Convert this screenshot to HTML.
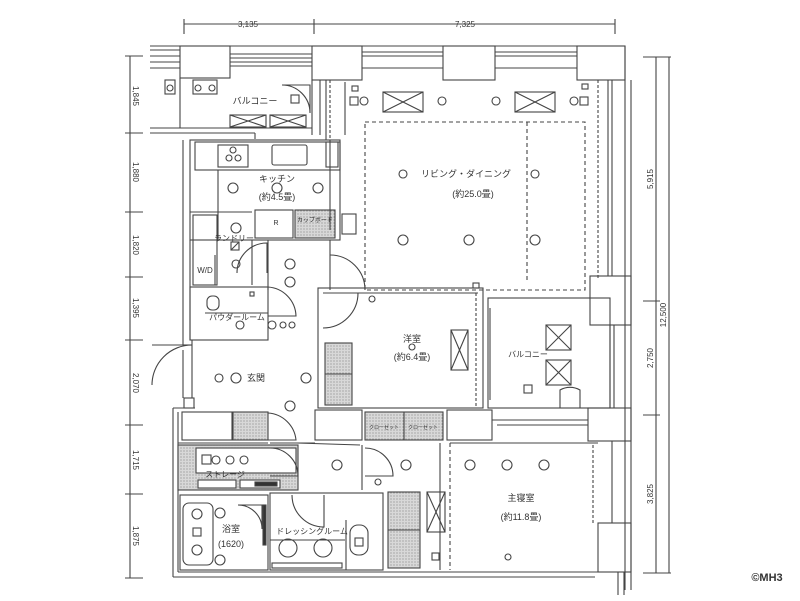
<!DOCTYPE html>
<html><head><meta charset="utf-8"><style>
html,body{margin:0;padding:0;background:#fff;}
svg{display:block;}
text{font-family:"Liberation Sans","Noto Sans CJK JP",sans-serif;fill:#333;}
</style></head><body>
<svg width="800" height="601" viewBox="0 0 800 601" xmlns="http://www.w3.org/2000/svg">
<defs>
<pattern id="dot" width="3" height="3" patternUnits="userSpaceOnUse"><rect width="3" height="3" fill="#d8d8d8"/><circle cx="1" cy="1" r="0.6" fill="#888"/></pattern>
</defs>
<g stroke="#444" stroke-width="1.1" fill="none">
<line x1="184" y1="24" x2="615" y2="24"/>
<line x1="184" y1="19" x2="184" y2="34"/><line x1="314" y1="19" x2="314" y2="34"/><line x1="615" y1="19" x2="615" y2="34"/>
<line x1="130" y1="56" x2="130" y2="578"/>
<g><line x1="125" y1="56" x2="143" y2="56"/><line x1="125" y1="133" x2="143" y2="133"/><line x1="125" y1="212" x2="143" y2="212"/><line x1="125" y1="277" x2="143" y2="277"/><line x1="125" y1="340" x2="143" y2="340"/><line x1="125" y1="425" x2="143" y2="425"/><line x1="125" y1="494" x2="143" y2="494"/><line x1="125" y1="578" x2="143" y2="578"/></g>
<line x1="656" y1="57" x2="656" y2="573"/><line x1="669" y1="57" x2="669" y2="573"/>
<line x1="643" y1="57" x2="671" y2="57"/><line x1="643" y1="301" x2="660" y2="301"/><line x1="643" y1="415" x2="660" y2="415"/><line x1="643" y1="573" x2="671" y2="573"/>

<rect x="180" y="46" width="50" height="32"/>
<rect x="312" y="46" width="50" height="34"/>
<rect x="443" y="46" width="52" height="34"/>
<rect x="577" y="46" width="48" height="34"/>
<line x1="150" y1="50" x2="180" y2="50"/><line x1="150" y1="56" x2="180" y2="56"/><line x1="150" y1="62" x2="180" y2="62"/><line x1="150" y1="68" x2="180" y2="68"/>
<line x1="230" y1="54" x2="312" y2="54"/><line x1="230" y1="58" x2="312" y2="58"/><line x1="230" y1="62" x2="312" y2="62"/><line x1="230" y1="66" x2="312" y2="66"/>
<line x1="362" y1="52" x2="443" y2="52"/><line x1="362" y1="56" x2="443" y2="56"/><line x1="362" y1="68" x2="443" y2="68"/>
<line x1="495" y1="52" x2="577" y2="52"/><line x1="495" y1="56" x2="577" y2="56"/><line x1="495" y1="68" x2="577" y2="68"/>
<line x1="150" y1="46" x2="625" y2="46"/>
<line x1="625" y1="46" x2="625" y2="590"/><line x1="631" y1="80" x2="631" y2="590"/>
<line x1="608" y1="80" x2="608" y2="276"/><line x1="612" y1="80" x2="612" y2="276"/>
<rect x="590" y="276" width="41" height="49"/>
<rect x="588" y="408" width="43" height="33"/>
<rect x="598" y="523" width="33" height="49"/>
<line x1="610" y1="325" x2="610" y2="408"/><line x1="614" y1="325" x2="614" y2="408"/>
<line x1="612" y1="441" x2="612" y2="523"/>
<line x1="618" y1="572" x2="618" y2="595"/><line x1="624" y1="572" x2="624" y2="595"/>

<line x1="180" y1="78" x2="180" y2="128"/>
<line x1="150" y1="128" x2="312" y2="128"/><line x1="150" y1="133" x2="255" y2="133"/>
<line x1="255" y1="133" x2="255" y2="139"/>
<rect x="165" y="80" width="10" height="14"/><circle cx="170" cy="88" r="3"/>
<rect x="193" y="80" width="24" height="14"/><circle cx="198" cy="88" r="3"/><circle cx="212" cy="88" r="3"/>
<rect x="230" y="115" width="36" height="12"/><line x1="230" y1="115" x2="266" y2="127"/><line x1="230" y1="127" x2="266" y2="115"/>
<rect x="270" y="115" width="36" height="12"/><line x1="270" y1="115" x2="306" y2="127"/><line x1="270" y1="127" x2="306" y2="115"/>
<path d="M282 85 A28 28 0 0 1 310 113 L310 85 Z"/>
<rect x="291" y="95" width="8" height="8"/>
<line x1="312" y1="80" x2="312" y2="135"/><line x1="320" y1="80" x2="320" y2="135"/>
<line x1="326" y1="80" x2="326" y2="140"/>

<rect x="190" y="140" width="150" height="100"/>
<rect x="195" y="142" width="145" height="28"/>
<rect x="218" y="145" width="30" height="22"/>
<circle cx="233" cy="150" r="3"/><circle cx="229" cy="158" r="3"/><circle cx="238" cy="158" r="3"/>
<rect x="272" y="145" width="35" height="20" rx="2"/>
<rect x="326" y="142" width="12" height="25"/>
<line x1="218" y1="170" x2="218" y2="240"/>
<rect x="255" y="210" width="38" height="28"/>
<rect x="295" y="210" width="40" height="28" fill="url(#dot)"/>
<rect x="342" y="214" width="14" height="20"/>
<circle cx="233" cy="188" r="5"/><circle cx="277" cy="188" r="5"/><circle cx="318" cy="188" r="5"/>
<line x1="190" y1="212" x2="252" y2="212"/>
<rect x="193" y="215" width="24" height="70"/>
<line x1="215" y1="255" x2="215" y2="285"/>
<circle cx="236" cy="228" r="5"/><rect x="231" y="242" width="8" height="8"/><line x1="231" y1="250" x2="239" y2="242"/>
<path d="M237 273 A30 30 0 0 1 267 243 L267 273"/>
<circle cx="236" cy="264" r="4"/>
<line x1="252" y1="240" x2="252" y2="285"/><line x1="268" y1="240" x2="268" y2="290"/>
<circle cx="290" cy="264" r="5"/>
<line x1="330" y1="240" x2="330" y2="290"/>
<path d="M330 255 A35 35 0 0 1 365 290"/>
<line x1="183" y1="140" x2="183" y2="345"/><line x1="190" y1="240" x2="190" y2="340"/>
<rect x="190" y="287" width="78" height="53"/>
<line x1="205" y1="313" x2="268" y2="313"/>
<rect x="207" y="296" width="12" height="14" rx="5"/>
<circle cx="240" cy="325" r="4"/>
<rect x="250" y="292" width="4" height="4"/>
<path d="M268 287 A30 30 0 0 1 296 316 L268 316"/>
<circle cx="272" cy="325" r="4"/><circle cx="283" cy="325" r="3"/><circle cx="292" cy="325" r="3"/>
<line x1="183" y1="345" x2="192" y2="345"/><line x1="192" y1="340" x2="192" y2="398"/>
<line x1="183" y1="350" x2="183" y2="398"/>
<path d="M192 345 A40 40 0 0 0 152 385"/><line x1="152" y1="345" x2="183" y2="345"/>
<rect x="184" y="398" width="10" height="10"/>
<circle cx="219" cy="378" r="4"/><circle cx="236" cy="378" r="5"/><circle cx="306" cy="378" r="5"/><circle cx="290" cy="406" r="5"/>
<circle cx="290" cy="282" r="5"/>

<line x1="330" y1="140" x2="330" y2="230"/>
<line x1="345" y1="82" x2="345" y2="135"/>
<rect x="352" y="86" width="6" height="5"/>
<rect x="350" y="97" width="8" height="8"/><circle cx="364" cy="101" r="4"/>
<rect x="383" y="92" width="40" height="20"/><line x1="383" y1="92" x2="423" y2="112"/><line x1="383" y1="112" x2="423" y2="92"/>
<rect x="515" y="92" width="40" height="20"/><line x1="515" y1="92" x2="555" y2="112"/><line x1="515" y1="112" x2="555" y2="92"/>
<circle cx="442" cy="101" r="4"/><circle cx="496" cy="101" r="4"/><circle cx="574" cy="101" r="4"/><rect x="580" y="97" width="8" height="8"/>
<rect x="582" y="84" width="6" height="5"/>
<line x1="330" y1="80" x2="330" y2="140" stroke-dasharray="3,2"/>
<line x1="598" y1="80" x2="598" y2="278" stroke-dasharray="3,2"/>
<rect x="365" y="122" width="220" height="168" stroke-dasharray="4,3"/>
<line x1="527" y1="122" x2="527" y2="280" stroke-dasharray="4,3"/>
<circle cx="403" cy="174" r="4"/><circle cx="535" cy="174" r="4"/>
<circle cx="403" cy="240" r="5"/><circle cx="469" cy="240" r="5"/><circle cx="535" cy="240" r="5"/>
<rect x="473" y="283" width="6" height="5"/>

<rect x="318" y="288" width="165" height="120"/>
<line x1="323" y1="293" x2="478" y2="293"/>
<path d="M323 293 L358 293 A35 35 0 0 1 323 328"/>
<rect x="325" y="343" width="27" height="62" fill="url(#dot)"/><line x1="325" y1="374" x2="352" y2="374"/>
<rect x="451" y="330" width="17" height="40"/><line x1="451" y1="330" x2="468" y2="370"/><line x1="451" y1="370" x2="468" y2="330"/>
<circle cx="412" cy="347" r="3"/><circle cx="372" cy="299" r="3"/>
<line x1="476" y1="293" x2="476" y2="408" stroke-dasharray="3,2"/>
<rect x="488" y="298" width="122" height="110"/>
<line x1="490" y1="308" x2="490" y2="400"/>
<rect x="546" y="325" width="25" height="25"/><line x1="546" y1="325" x2="571" y2="350"/><line x1="546" y1="350" x2="571" y2="325"/>
<rect x="546" y="360" width="25" height="25"/><line x1="546" y1="360" x2="571" y2="385"/><line x1="546" y1="385" x2="571" y2="360"/>
<rect x="524" y="385" width="8" height="8"/>
<path d="M560 408 L560 390 A20 20 0 0 1 580 390 L580 408"/>
<rect x="315" y="410" width="47" height="30"/>
<rect x="365" y="412" width="78" height="28" fill="url(#dot)"/><line x1="404" y1="412" x2="404" y2="440"/>
<rect x="447" y="410" width="45" height="30"/>
<line x1="492" y1="420" x2="588" y2="420"/><line x1="497" y1="425" x2="588" y2="425"/>

<line x1="450" y1="443" x2="450" y2="570" stroke-dasharray="4,3"/>
<line x1="450" y1="443" x2="598" y2="443"/>
<line x1="593" y1="445" x2="593" y2="523" stroke-dasharray="3,2"/>
<circle cx="470" cy="465" r="5"/><circle cx="507" cy="465" r="5"/><circle cx="544" cy="465" r="5"/>
<circle cx="508" cy="557" r="3"/>
<rect x="427" y="492" width="18" height="40"/><line x1="427" y1="492" x2="445" y2="532"/><line x1="427" y1="532" x2="445" y2="492"/>
<rect x="432" y="553" width="7" height="7"/>

<line x1="173" y1="408" x2="173" y2="577"/><line x1="178" y1="412" x2="178" y2="572"/>
<line x1="173" y1="408" x2="195" y2="408"/>
<line x1="173" y1="577" x2="595" y2="577"/><line x1="178" y1="572" x2="598" y2="572"/>
<rect x="182" y="412" width="50" height="28"/>
<rect x="233" y="412" width="35" height="28" fill="url(#dot)"/>
<line x1="178" y1="443" x2="268" y2="443"/>
<rect x="178" y="445" width="120" height="45" fill="url(#dot)"/>
<rect x="196" y="448" width="100" height="25" fill="#fff"/>
<rect x="198" y="480" width="38" height="8" fill="#fff"/><rect x="240" y="480" width="40" height="8" fill="#fff"/>
<rect x="255" y="482" width="22" height="4" fill="#333"/>
<rect x="202" y="455" width="9" height="9"/><circle cx="216" cy="460" r="4"/><circle cx="230" cy="460" r="4"/><circle cx="244" cy="460" r="4"/>
<path d="M268 413 A30 30 0 0 1 296 440 L268 440"/>
<path d="M270 448 A28 28 0 0 1 298 476 L270 476"/>
<line x1="270" y1="443" x2="315" y2="443"/>
<line x1="297" y1="443" x2="360" y2="445"/>
<line x1="362" y1="445" x2="362" y2="490"/>
<path d="M365 448 A28 28 0 0 1 393 476 L365 476"/>
<circle cx="337" cy="465" r="5"/><circle cx="406" cy="465" r="5"/>
<circle cx="378" cy="482" r="3"/>
<line x1="440" y1="443" x2="440" y2="570"/>
<rect x="180" y="495" width="88" height="75"/>
<rect x="183" y="503" width="30" height="62" rx="6"/>
<circle cx="197" cy="514" r="5"/><circle cx="197" cy="550" r="5"/><rect x="193" y="528" width="8" height="8"/>
<circle cx="220" cy="513" r="5"/><circle cx="220" cy="560" r="5"/>
<path d="M238 505 A24 24 0 0 1 262 529 L262 505 Z"/>
<rect x="263" y="505" width="3" height="40" fill="#333"/>
<rect x="270" y="493" width="113" height="77"/>
<path d="M292 495 A32 32 0 0 0 324 527 L324 495"/>
<line x1="270" y1="540" x2="345" y2="540"/>
<circle cx="288" cy="548" r="9"/><circle cx="323" cy="548" r="9"/>
<rect x="272" y="563" width="70" height="5"/>
<line x1="346" y1="520" x2="346" y2="570"/>
<rect x="350" y="525" width="18" height="30" rx="8"/><rect x="355" y="538" width="8" height="8"/>
<rect x="388" y="492" width="32" height="76" fill="url(#dot)"/><line x1="388" y1="530" x2="420" y2="530"/>
</g>
<g font-size="8" text-anchor="middle">
<text x="248" y="27">3,135</text>
<text x="465" y="27">7,325</text>
<text transform="translate(133,96) rotate(90)">1,845</text>
<text transform="translate(133,172) rotate(90)">1,880</text>
<text transform="translate(133,245) rotate(90)">1,820</text>
<text transform="translate(133,308) rotate(90)">1,395</text>
<text transform="translate(133,383) rotate(90)">2,070</text>
<text transform="translate(133,460) rotate(90)">1,715</text>
<text transform="translate(133,536) rotate(90)">1,875</text>
<text transform="translate(653,179) rotate(-90)">5,915</text>
<text transform="translate(653,358) rotate(-90)">2,750</text>
<text transform="translate(653,494) rotate(-90)">3,825</text>
<text transform="translate(666,315) rotate(-90)">12,500</text>
</g>
<g font-size="9" text-anchor="middle">
<text x="255" y="104">バルコニー</text>
<text x="277" y="182">キッチン</text>
<text x="277" y="200">(約4.5畳)</text>
<text x="276" y="225" font-size="7">R</text>
<text x="315" y="222" font-size="6">カップボード</text>
<text x="234" y="241" font-size="8">ランドリー</text>
<text x="205" y="273" font-size="8">W/D</text>
<text x="237" y="320" font-size="8">パウダールーム</text>
<text x="466" y="177">リビング・ダイニング</text>
<text x="473" y="197">(約25.0畳)</text>
<text x="412" y="342">洋室</text>
<text x="412" y="360">(約6.4畳)</text>
<text x="528" y="357" font-size="8">バルコニー</text>
<text x="256" y="381">玄関</text>
<text x="225" y="477" font-size="8">ストレージ</text>
<text x="231" y="532">浴室</text>
<text x="231" y="537" dy="10">(1620)</text>
<text x="312" y="534" font-size="8">ドレッシングルーム</text>
<text x="521" y="501">主寝室</text>
<text x="521" y="520">(約11.8畳)</text>
<text x="384" y="429" font-size="5">クローゼット</text>
<text x="423" y="429" font-size="5">クローゼット</text>
<text x="767" y="581" font-size="11" font-weight="bold" fill="#444">©MH3</text>
</g>
</svg>
</body></html>
